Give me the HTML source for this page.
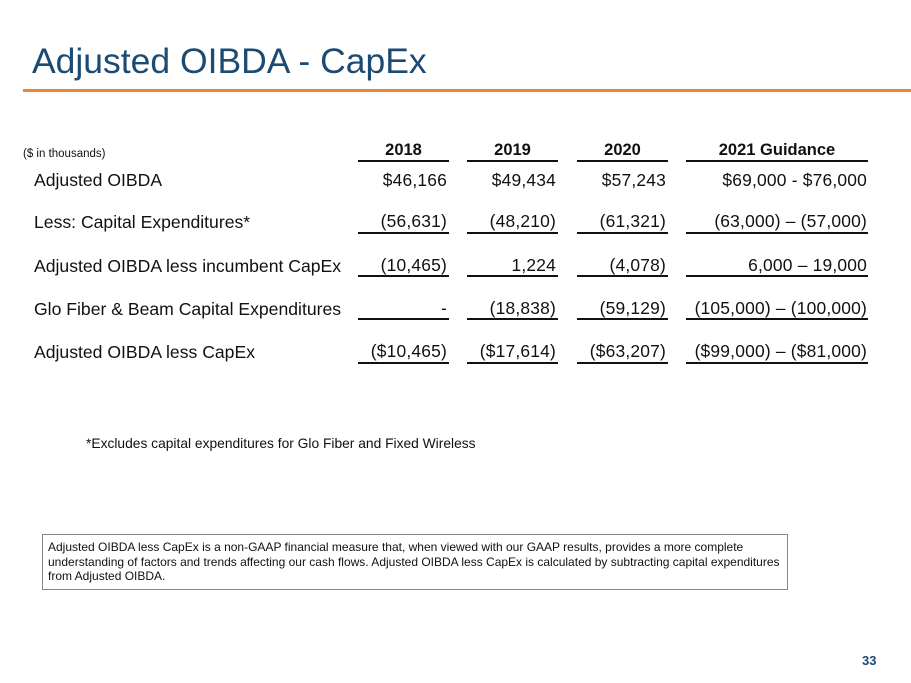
<!DOCTYPE html>
<html><head><meta charset="utf-8"><style>
body{margin:0;width:911px;height:683px;background:#fff;position:relative;overflow:hidden;font-family:"Liberation Sans",Arial,sans-serif;color:#111}
.a{position:absolute;white-space:nowrap}
.t{left:32px;top:41px;font-size:35.5px;color:#1b4a72}
.bar{left:23px;top:89px;width:888px;height:3px;background:#e8883a}
.l{font-size:17.6px}
.v{font-size:17.4px;text-align:right;letter-spacing:0.2px}
.u{position:absolute;height:2px;background:#111}
.h{font-size:16.5px;font-weight:bold;text-align:center}
</style></head><body>
<div class="a t">Adjusted OIBDA - CapEx</div>
<div class="a bar"></div>
<div class="a" style="left:23px;top:148px;font-size:11.5px">($ in thousands)</div>

<div class="a h" style="left:358px;width:91px;top:141px">2018</div>
<div class="a h" style="left:467px;width:91px;top:141px">2019</div>
<div class="a h" style="left:577px;width:91px;top:141px">2020</div>
<div class="a h" style="left:686px;width:182px;top:141px">2021 Guidance</div>
<div class="u" style="left:358px;width:91px;top:160px"></div>
<div class="u" style="left:467px;width:91px;top:160px"></div>
<div class="u" style="left:577px;width:91px;top:160px"></div>
<div class="u" style="left:686px;width:182px;top:160px"></div>

<div class="a l" style="left:34px;top:170px">Adjusted OIBDA</div>
<div class="a l" style="left:34px;top:212px">Less: Capital Expenditures*</div>
<div class="a l" style="left:34px;top:256px">Adjusted OIBDA less incumbent CapEx</div>
<div class="a l" style="left:34px;top:299px">Glo Fiber &amp; Beam Capital Expenditures</div>
<div class="a l" style="left:34px;top:342px">Adjusted OIBDA less CapEx</div>

<div class="a v" style="right:464px;top:170px">$46,166</div>
<div class="a v" style="right:355px;top:170px">$49,434</div>
<div class="a v" style="right:245px;top:170px">$57,243</div>
<div class="a v" style="right:44px;top:170px">$69,000 - $76,000</div>

<div class="a v" style="right:464px;top:211px">(56,631)</div>
<div class="a v" style="right:355px;top:211px">(48,210)</div>
<div class="a v" style="right:245px;top:211px">(61,321)</div>
<div class="a v" style="right:44px;top:211px">(63,000) – (57,000)</div>

<div class="a v" style="right:464px;top:255px">(10,465)</div>
<div class="a v" style="right:355px;top:255px">1,224</div>
<div class="a v" style="right:245px;top:255px">(4,078)</div>
<div class="a v" style="right:44px;top:255px">6,000 – 19,000</div>

<div class="a v" style="right:464px;top:298px">-</div>
<div class="a v" style="right:355px;top:298px">(18,838)</div>
<div class="a v" style="right:245px;top:298px">(59,129)</div>
<div class="a v" style="right:44px;top:298px">(105,000) – (100,000)</div>

<div class="a v" style="right:464px;top:341px">($10,465)</div>
<div class="a v" style="right:355px;top:341px">($17,614)</div>
<div class="a v" style="right:245px;top:341px">($63,207)</div>
<div class="a v" style="right:44px;top:341px">($99,000) – ($81,000)</div>

<div class="u" style="left:358px;width:91px;top:232px"></div><div class="u" style="left:467px;width:91px;top:232px"></div><div class="u" style="left:577px;width:91px;top:232px"></div><div class="u" style="left:686px;width:182px;top:232px"></div>
<div class="u" style="left:358px;width:91px;top:275px"></div><div class="u" style="left:467px;width:91px;top:275px"></div><div class="u" style="left:577px;width:91px;top:275px"></div><div class="u" style="left:686px;width:182px;top:275px"></div>
<div class="u" style="left:358px;width:91px;top:318px"></div><div class="u" style="left:467px;width:91px;top:318px"></div><div class="u" style="left:577px;width:91px;top:318px"></div><div class="u" style="left:686px;width:182px;top:318px"></div>
<div class="u" style="left:358px;width:91px;top:362px"></div><div class="u" style="left:467px;width:91px;top:362px"></div><div class="u" style="left:577px;width:91px;top:362px"></div><div class="u" style="left:686px;width:182px;top:362px"></div>

<div class="a" style="left:86px;top:436px;font-size:13.8px">*Excludes capital expenditures for Glo Fiber and Fixed Wireless</div>

<div class="a" style="left:42px;top:534px;width:734px;height:44px;border:1.5px solid #888;padding:5px;font-size:12px;line-height:14.5px;white-space:normal">Adjusted OIBDA less CapEx is a non-GAAP financial measure that, when viewed with our GAAP results, provides a more complete understanding of factors and trends affecting our cash flows. Adjusted OIBDA less CapEx is calculated by subtracting capital expenditures from Adjusted OIBDA.</div>

<div class="a" style="left:862px;top:653px;font-size:13px;font-weight:bold;color:#1b4a72">33</div>
</body></html>
